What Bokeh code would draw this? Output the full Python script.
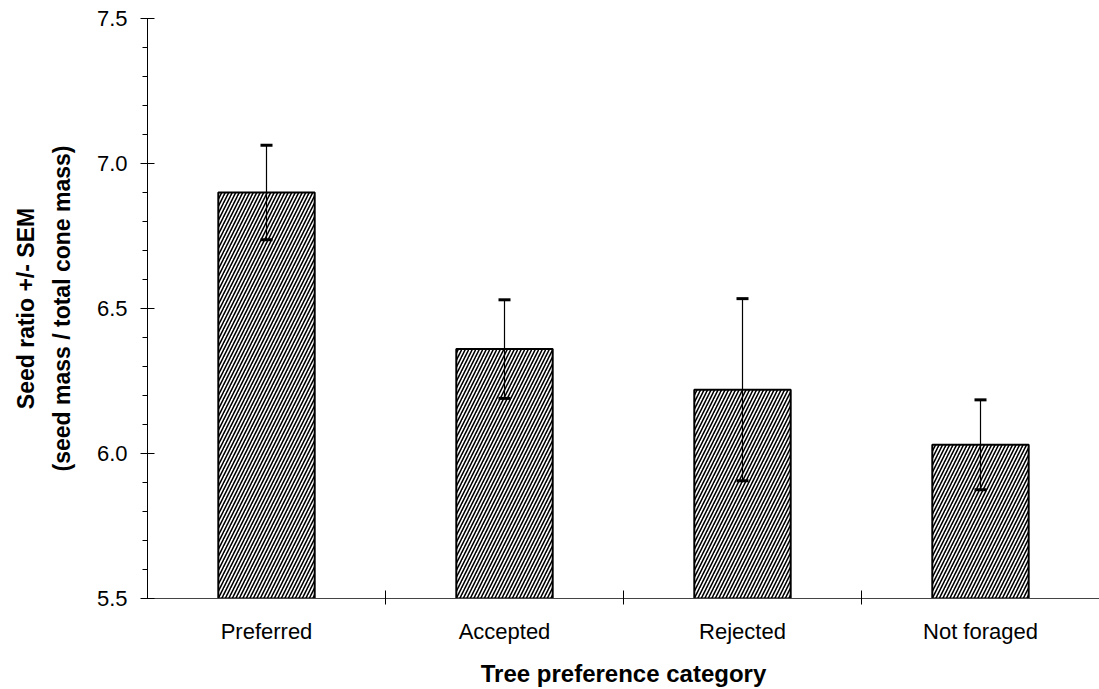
from bokeh.plotting import figure
from bokeh.models import ColumnDataSource, FixedTicker, Range1d, Whisker, TeeHead
from bokeh.embed import file_html
from bokeh.resources import INLINE

categories = ["Preferred", "Accepted", "Rejected", "Not foraged"]
means = [6.90, 6.36, 6.22, 6.03]
sems = [0.163, 0.17, 0.314, 0.155]
y_ticks = [5.5, 6.0, 6.5, 7.0, 7.5]

xs = [i + 0.5 for i in range(len(categories))]
src = ColumnDataSource(dict(
    x=xs, top=means,
    upper=[m + s for m, s in zip(means, sems)],
    lower=[m - s for m, s in zip(means, sems)],
))

FONT = "Liberation Sans"

p = figure(width=1099, height=689, output_backend="svg", toolbar_location=None,
           x_range=Range1d(0, len(categories)), y_range=Range1d(5.5, 7.5),
           min_border_left=147, min_border_right=0, min_border_top=18, min_border_bottom=91)
p.outline_line_color = None
p.grid.visible = False
p.background_fill_color = "white"

p.vbar(x="x", top="top", bottom=5.5, width=0.405, source=src,
       fill_color="white", line_color="black", line_width=2,
       hatch_pattern="right_diagonal_line", hatch_color="black",
       hatch_scale=7, hatch_weight=1.6)

w = Whisker(base="x", upper="upper", lower="lower", source=src, dimension="height",
            line_color="black", line_width=1.2, level="overlay",
            upper_head=TeeHead(size=12, line_width=3, line_color="black"),
            lower_head=TeeHead(size=12, line_width=3, line_color="black"))
p.add_layout(w)

# y axis
minor = [round(5.5 + 0.1 * i, 2) for i in range(21)]
p.yaxis.ticker = FixedTicker(ticks=y_ticks, minor_ticks=minor)
p.yaxis.major_label_overrides = {t: f"{t:.1f}" for t in y_ticks}
p.yaxis.major_tick_out = 7
p.yaxis.major_tick_in = 7
p.yaxis.minor_tick_out = 5
p.yaxis.minor_tick_in = 0
p.yaxis.axis_line_color = "black"
p.yaxis.major_label_text_font = FONT
p.yaxis.major_label_text_font_size = "22px"
p.yaxis.major_label_text_color = "black"
p.yaxis.major_label_standoff = 13
p.yaxis.axis_label = "Seed ratio +/- SEM\n(seed mass / total cone mass)"
p.yaxis.axis_label_text_font = FONT
p.yaxis.axis_label_text_font_size = "23px"
p.yaxis.axis_label_text_font_style = "bold"
p.yaxis.axis_label_text_color = "black"
p.yaxis.axis_label_text_line_height = 1.4
p.yaxis.axis_label_standoff = 19

# x axis
p.xaxis.ticker = FixedTicker(ticks=xs, minor_ticks=[1, 2, 3])
p.xaxis.major_label_overrides = {x: c for x, c in zip(xs, categories)}
p.xaxis.major_tick_out = 0
p.xaxis.major_tick_in = 0
p.xaxis.minor_tick_out = 6
p.xaxis.minor_tick_in = 8
p.xaxis.axis_line_color = "#444444"
p.xaxis.major_label_text_font = FONT
p.xaxis.major_label_text_font_size = "22px"
p.xaxis.major_label_text_color = "black"
p.xaxis.major_label_standoff = 14
p.xaxis.axis_label = "Tree preference category"
p.xaxis.axis_label_text_font = FONT
p.xaxis.axis_label_text_font_size = "24px"
p.xaxis.axis_label_text_font_style = "bold"
p.xaxis.axis_label_text_color = "black"
p.xaxis.axis_label_standoff = 13

open("out.html", "w").write(file_html(p, INLINE))
